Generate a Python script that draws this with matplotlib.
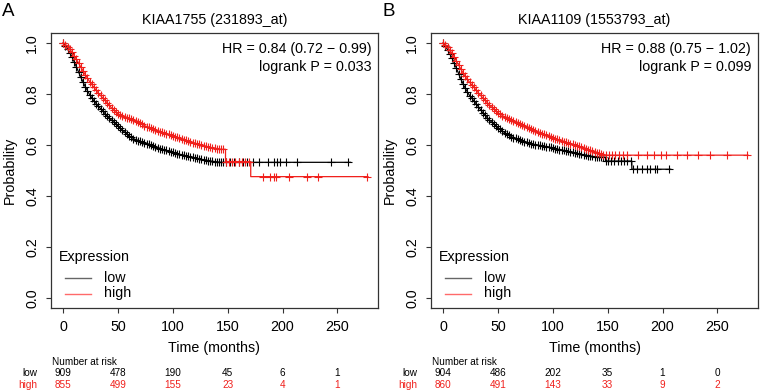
import numpy as np
import matplotlib
matplotlib.use('Agg')
import matplotlib.pyplot as plt
from matplotlib import transforms

plt.rcParams['font.family'] = ['Liberation Sans', 'DejaVu Sans']

# knot times (months)
grid = [0, 4, 8, 12, 16, 20, 24, 28, 32, 36, 40, 44, 48, 52, 56, 60, 64, 68, 72,
        76, 80, 84, 88, 92, 96, 100, 104, 108, 112, 116, 120, 124, 128, 132, 136,
        140, 144, 148]

# panel A : KIAA1755 (231893_at)
a_low_t = grid + [262]
a_low_s = [1.000, 0.975, 0.945, 0.905, 0.865, 0.828, 0.797, 0.772, 0.752, 0.732,
           0.714, 0.697, 0.681, 0.666, 0.650, 0.635, 0.625, 0.617, 0.611, 0.605,
           0.599, 0.592, 0.586, 0.581, 0.576, 0.571, 0.566, 0.561, 0.557, 0.553,
           0.549, 0.545, 0.542, 0.539, 0.536, 0.534, 0.532, 0.532, 0.532]
a_low_cens = [152, 156, 160, 164, 168, 173, 179, 187, 192, 195, 198, 203, 213.5, 244, 259.5]

a_high_t = grid[:-1] + [148, 148, 171, 171, 278]
a_high_s = [1.000, 0.985, 0.962, 0.935, 0.905, 0.875, 0.848, 0.825, 0.803, 0.784,
            0.765, 0.745, 0.727, 0.717, 0.710, 0.704, 0.696, 0.688, 0.680, 0.672,
            0.665, 0.658, 0.652, 0.646, 0.641, 0.636, 0.630, 0.624, 0.618, 0.612,
            0.607, 0.602, 0.597, 0.592, 0.589, 0.586, 0.583,
            0.583, 0.535, 0.535, 0.476, 0.476]
a_high_cens = [151, 154, 157, 160, 163, 166, 169, 182, 189, 192, 194, 205.6, 222, 232.6, 277]

# panel B : KIAA1109 (1553793_at)
b_low_t = grid[:-1] + [148, 148, 172, 172, 207.5]
b_low_s = [1.000, 0.972, 0.940, 0.900, 0.858, 0.822, 0.793, 0.772, 0.750, 0.726,
           0.707, 0.690, 0.674, 0.661, 0.648, 0.637, 0.629, 0.622, 0.616, 0.610,
           0.605, 0.601, 0.598, 0.595, 0.592, 0.588, 0.584, 0.580, 0.577, 0.573,
           0.569, 0.565, 0.561, 0.558, 0.555, 0.553, 0.552,
           0.552, 0.537, 0.537, 0.505, 0.505]
b_low_cens = [150, 153, 156, 159, 162, 165, 168, 171, 173, 177, 181, 185.6, 188.6, 193, 195, 206]

b_high_t = grid + [278]
b_high_s = [1.000, 0.982, 0.958, 0.928, 0.897, 0.868, 0.845, 0.825, 0.804, 0.784,
            0.766, 0.748, 0.732, 0.720, 0.710, 0.702, 0.693, 0.685, 0.677, 0.670,
            0.663, 0.655, 0.648, 0.641, 0.634, 0.628, 0.622, 0.616, 0.610, 0.605,
            0.600, 0.594, 0.588, 0.582, 0.576, 0.570, 0.565, 0.560, 0.560]
b_high_cens = [151, 154, 157, 160, 164, 168, 178, 185.6, 192, 199, 203, 213.5, 222,
               232.7, 243, 259, 277]

risk_times = [0, 50, 100, 150, 200, 250]
a_risk_low = [909, 478, 190, 45, 6, 1]
a_risk_high = [855, 499, 155, 23, 4, 1]
b_risk_low = [904, 486, 202, 35, 1, 0]
b_risk_high = [860, 491, 143, 33, 9, 2]

titles = ['KIAA1755 (231893_at)', 'KIAA1109 (1553793_at)']
hr_text = [['HR = 0.84 (0.72 \u2212 0.99)', 'logrank P = 0.033'],
           ['HR = 0.88 (0.75 \u2212 1.02)', 'logrank P = 0.099']]
letters = ['A', 'B']

W, H = 760, 392
fs = 10.3
red = '#f0201c'


def km(ax, t, s, cens, color):
	t = np.array(t, float)
	s = np.array(s, float)
	ax.plot(t, s, color=color, lw=0.9)
	# censoring marks: every knot, halfway between knots, and the listed tail times
	g = np.array([x for x in grid if x <= t[-1]], float)
	ct = np.concatenate([g, (g[:-1] + g[1:]) / 2, cens])
	cs = np.interp(ct, t, s)
	ax.plot(ct, cs, ls='none', marker='+', ms=5.2, mew=0.8, color=color)


def panel(i, x0, low, high, rlow, rhigh):
	ax = fig.add_axes([(x0 + 51) / W, (H - 308) / H, 327 / W, 275 / H])
	km(ax, *low, color='black')
	km(ax, *high, color=red)
	ax.set_xlim(-11.2, 287.1)
	ax.set_ylim(-0.038, 1.038)
	ax.set_xticks([0, 50, 100, 150, 200, 250])
	ax.set_yticks([0.0, 0.2, 0.4, 0.6, 0.8, 1.0])
	ax.set_yticklabels(['0.0', '0.2', '0.4', '0.6', '0.8', '1.0'], rotation=90, va='center')
	ax.tick_params(length=3.6, width=0.8, color='#333333', labelsize=fs, pad=5)
	for sp in ax.spines.values():
		sp.set_color('#333333')
		sp.set_linewidth(0.9)
	ax.text(0.5, 1 + 13 / 275, titles[i], transform=ax.transAxes, ha='center', va='center', fontsize=fs)
	ax.text(0.979, (308 - 49.3) / 275, hr_text[i][0], transform=ax.transAxes, ha='right', va='center', fontsize=fs)
	ax.text(0.979, (308 - 66.7) / 275, hr_text[i][1], transform=ax.transAxes, ha='right', va='center', fontsize=fs)
	ax.text(-41 / 327, 0.5, 'Probability', transform=ax.transAxes, rotation=90, ha='center', va='center', fontsize=fs)
	ax.text(0.5, -40 / 275, 'Time (months)', transform=ax.transAxes, ha='center', va='center', fontsize=fs)

	# legend
	ax.text(8 / 327, (308 - 256.7) / 275, 'Expression', transform=ax.transAxes, ha='left', va='center', fontsize=fs)
	for lab, col, yp in [('low', '#666666', 277.5), ('high', '#ff6a6a', 293.5)]:
		yy = (308 - yp) / 275
		ax.plot([14 / 327, 40 / 327], [yy, yy], transform=ax.transAxes, color=col, lw=1)
		ax.text(53 / 327, yy, lab, transform=ax.transAxes, ha='left', va='center', fontsize=fs)

	tr = transforms.blended_transform_factory(ax.transData, fig.transFigure)
	fig.text((x0 + 51.7) / W, 1 - 362 / H, 'Number at risk', fontsize=7.2, ha='left', va='center')
	fig.text((x0 + 37.7) / W, 1 - 373.5 / H, 'low', fontsize=7.2, ha='right', va='center')
	fig.text((x0 + 37.7) / W, 1 - 385 / H, 'high', fontsize=7.2, ha='right', va='center', color=red)
	for t, a, b in zip(risk_times, rlow, rhigh):
		ax.text(t, 1 - 373.5 / H, str(a), transform=tr, fontsize=7.2, ha='center', va='center')
		ax.text(t, 1 - 385 / H, str(b), transform=tr, fontsize=7.2, ha='center', va='center', color=red)
	fig.text((x0 + 8.7) / W, 1 - 11.7 / H, letters[i], fontsize=13.5, ha='center', va='center')
	return ax


fig = plt.figure(figsize=(7.6, 3.92), dpi=100)
panel(0, 0, (a_low_t, a_low_s, a_low_cens), (a_high_t, a_high_s, a_high_cens), a_risk_low, a_risk_high)
panel(1, 380, (b_low_t, b_low_s, b_low_cens), (b_high_t, b_high_s, b_high_cens), b_risk_low, b_risk_high)
fig.savefig('out.png', dpi=100)
